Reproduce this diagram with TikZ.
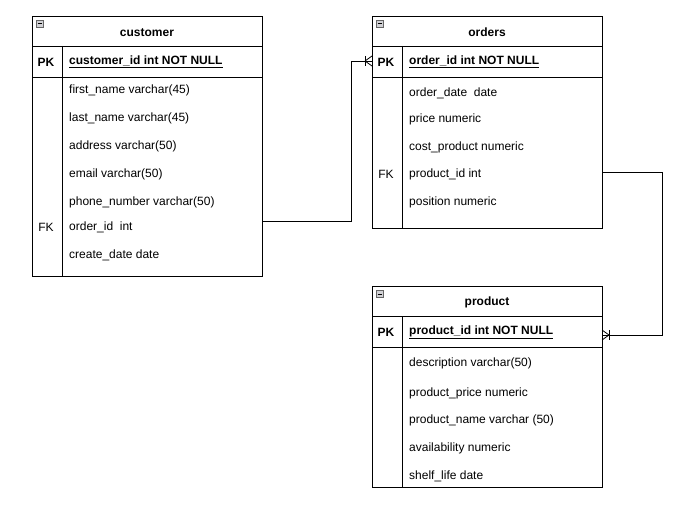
\documentclass[tikz,border=0pt]{standalone}
\usepackage{fontspec}
\setmainfont{Liberation Sans}
\tikzset{
  tbl/.style={draw,line width=.8pt,anchor=north west,inner sep=0pt,minimum width=230pt},
  ttl/.style={inner sep=0pt,yshift=-1.2pt,font=\fontsize{12}{14}\selectfont\bfseries},
  fld/.style={anchor=west,inner sep=0pt,yshift=-1.2pt,font=\fontsize{12}{14}\selectfont},
  keyfld/.style={anchor=west,inner sep=0pt,yshift=-1.2pt,font=\fontsize{12}{14}\selectfont\bfseries},
  icon/.style={draw=black!60,fill=blue!8!black!18,line width=.6pt},
  rel/.style={line width=.8pt}
}
\begin{document}
\begin{tikzpicture}[x=1pt,y=-1pt]
\useasboundingbox[fill=white] (0,0) rectangle (685,511);

% customer
\node[tbl,minimum height=260pt] (customer) at (32,16) {};
\draw[line width=.8pt] (32,46) -- (262,46) (32,77) -- (262,77) (62,46) -- (62,276);
\draw[icon] (36,20.5) rectangle (43,27.5); \draw[line width=1pt] (37.5,24) -- (41.5,24);
\node[ttl] (customer-t) at (147,31) {customer};
\node[ttl] (customer-pk) at (46,61) {PK};
\node[keyfld] (customer-id) at (69,61) {\underline{customer\_id int NOT NULL}};
\foreach \y/\t [count=\i] in {89/first\_name varchar(45),117/last\_name varchar(45),
    145/address varchar(50),173/email varchar(50),201/phone\_number varchar(50),
    226/order\_id\ \ int,254/create\_date date}
  \node[fld] (customer-\i) at (69,\y) {\t};
\node[fld,anchor=center] (customer-fk) at (46,226) {FK};

% orders
\node[tbl,minimum height=212pt] (orders) at (372,16) {};
\draw[line width=.8pt] (372,46) -- (602,46) (372,77) -- (602,77) (402,46) -- (402,228);
\draw[icon] (376,20.5) rectangle (383,27.5); \draw[line width=1pt] (377.5,24) -- (381.5,24);
\node[ttl] (orders-t) at (487,31) {orders};
\node[ttl] (orders-pk) at (386,61) {PK};
\node[keyfld] (orders-id) at (409,61) {\underline{order\_id int NOT NULL}};
\foreach \y/\t [count=\i] in {92/order\_date\ \ date,118/price numeric,
    146/cost\_product numeric,173/product\_id int,201/position numeric}
  \node[fld] (orders-\i) at (409,\y) {\t};
\node[fld,anchor=center] (orders-fk) at (386,173) {FK};

% product
\node[tbl,minimum height=201pt] (product) at (372,286) {};
\draw[line width=.8pt] (372,316) -- (602,316) (372,347) -- (602,347) (402,316) -- (402,487);
\draw[icon] (376,290.5) rectangle (383,297.5); \draw[line width=1pt] (377.5,294) -- (381.5,294);
\node[ttl] (product-t) at (487,301) {product};
\node[ttl] (product-pk) at (386,331) {PK};
\node[keyfld] (product-id) at (409,331) {\underline{product\_id int NOT NULL}};
\foreach \y/\t [count=\i] in {362/description varchar(50),392/product\_price numeric,
    419/product\_name varchar (50),447/availability numeric,475/shelf\_life date}
  \node[fld] (product-\i) at (409,\y) {\t};

% relations
\coordinate (cust-out) at (262,221);
\coordinate (ord-in) at (372,61);
\coordinate (ord-out) at (602,172);
\coordinate (prod-in) at (602,335);
\draw[rel] (cust-out) -- ++(89,0) |- (ord-in);
\draw[rel] (ord-in) ++(-7,-5) -- ++(0,10);
\draw[rel] (ord-in) ++(-7,0) -- ++(7,-5) (ord-in) ++(-7,0) -- ++(7,5);
\draw[rel] (ord-out) -- ++(60,0) |- (prod-in);
\draw[rel] (prod-in) ++(7,-5) -- ++(0,10);
\draw[rel] (prod-in) ++(7,0) -- ++(-7,-5) (prod-in) ++(7,0) -- ++(-7,5);
\end{tikzpicture}
\end{document}
